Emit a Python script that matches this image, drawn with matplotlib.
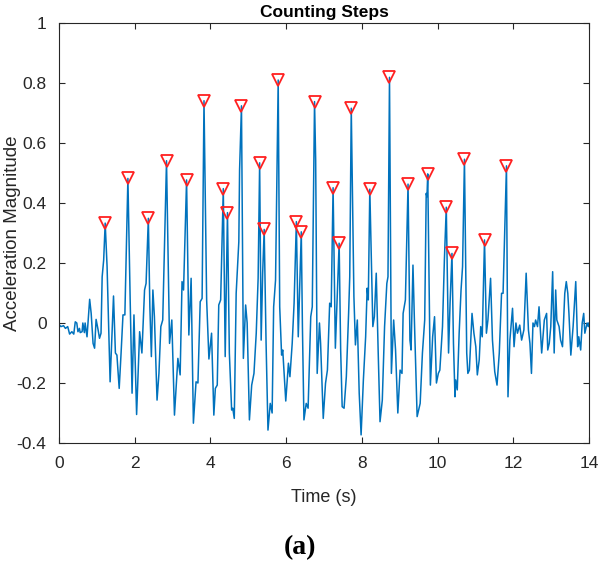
import matplotlib
matplotlib.use('Agg')
import matplotlib.pyplot as plt
import numpy as np

# acceleration magnitude trace (time in s, magnitude)
sig_t = [0.00, 0.05, 0.12, 0.17, 0.23, 0.28, 0.34, 0.39, 0.43, 0.47, 0.50, 0.54, 0.56, 0.61, 0.63, 0.67, 0.69, 0.74,
         0.81, 0.85, 0.90, 0.94, 0.98, 1.03, 1.07, 1.11, 1.14, 1.18, 1.22, 1.27, 1.35, 1.40, 1.44, 1.49, 1.53, 1.59,
         1.64, 1.69, 1.74, 1.82, 1.88, 1.93, 1.98, 2.05, 2.13, 2.19, 2.26, 2.30, 2.36, 2.40, 2.44, 2.48, 2.52, 2.59,
         2.64, 2.69, 2.74, 2.84, 2.92, 2.98, 3.05, 3.14, 3.20, 3.25, 3.29, 3.37, 3.43, 3.49, 3.55, 3.62, 3.67, 3.73,
         3.78, 3.83, 3.90, 3.96, 4.03, 4.09, 4.13, 4.18, 4.22, 4.27, 4.34, 4.39, 4.45, 4.50, 4.56, 4.59, 4.63, 4.68,
         4.75, 4.77, 4.82, 4.87, 4.93, 4.97, 5.03, 5.09, 5.15, 5.21, 5.26, 5.30, 5.34, 5.38, 5.42, 5.47, 5.52, 5.58,
         5.63, 5.67, 5.72, 5.79, 5.83, 5.88, 5.91, 5.99, 6.06, 6.10, 6.16, 6.21, 6.27, 6.32, 6.40, 6.43, 6.47, 6.53,
         6.58, 6.65, 6.69, 6.75, 6.78, 6.82, 6.88, 6.91, 6.98, 7.04, 7.09, 7.15, 7.19, 7.24, 7.30, 7.34, 7.40, 7.44,
         7.48, 7.53, 7.59, 7.65, 7.68, 7.72, 7.79, 7.83, 7.88, 7.93, 7.98, 8.04, 8.10, 8.14, 8.17, 8.21, 8.29, 8.33,
         8.38, 8.43, 8.48, 8.54, 8.60, 8.66, 8.69, 8.73, 8.78, 8.84, 8.89, 8.95, 9.01, 9.06, 9.09, 9.15, 9.22, 9.27,
         9.30, 9.35, 9.39, 9.46, 9.54, 9.60, 9.66, 9.70, 9.72, 9.74, 9.81, 9.87, 9.92, 9.97, 10.02, 10.06, 10.13,
         10.18, 10.23, 10.29, 10.33, 10.38, 10.42, 10.46, 10.48, 10.52, 10.57, 10.62, 10.66, 10.71, 10.77, 10.80,
         10.84, 10.91, 10.96, 11.01, 11.05, 11.10, 11.14, 11.18, 11.24, 11.29, 11.33, 11.40, 11.45, 11.51, 11.57,
         11.63, 11.69, 11.73, 11.82, 11.86, 11.91, 11.98, 12.02, 12.07, 12.11, 12.17, 12.22, 12.28, 12.34, 12.40,
         12.44, 12.48, 12.52, 12.56, 12.59, 12.64, 12.68, 12.75, 12.82, 12.88, 12.91, 12.95, 12.99, 13.04, 13.08,
         13.12, 13.15, 13.21, 13.25, 13.30, 13.36, 13.40, 13.44, 13.47, 13.52, 13.58, 13.65, 13.70, 13.73, 13.78,
         13.82, 13.86, 13.89, 13.95, 13.98, 14.00]
sig_v = [-0.005, -0.012, -0.009, -0.018, -0.012, -0.037, -0.029, -0.037, 0.004, 0.0, -0.029, -0.018, -0.032, -0.029,
         0.0, -0.032, 0.0, -0.046, 0.079, 0.032, -0.068, -0.084, 0.012, -0.021, -0.051, -0.034, 0.154, 0.21, 0.333,
         0.188, -0.196, -0.034, 0.09, -0.10, -0.107, -0.218, -0.10, 0.027, 0.027, 0.482, 0.077, -0.234, 0.027, -0.305,
         -0.029, -0.10, 0.11, 0.132, 0.349, 0.054, -0.112, 0.11, 0.021, -0.257, -0.168, -0.012, 0.01, 0.541, -0.068,
         0.01, -0.307, -0.118, -0.173, 0.138, 0.11, 0.477, -0.04, 0.149, -0.334, -0.196, -0.20, 0.071, 0.082, 0.741,
         0.077, -0.12, -0.034, -0.307, -0.218, -0.207, 0.06, 0.077, 0.448, -0.112, 0.368, -0.10, -0.29, -0.284,
         -0.318, 0.099, 0.271, 0.51, 0.724, -0.118, 0.06, 0.0, -0.323, -0.207, -0.168, -0.034, 0.149, 0.534, -0.057,
         0.166, 0.312, -0.068, -0.357, -0.268, -0.30, 0.054, 0.143, 0.810, 0.054, -0.107, -0.09, -0.26, -0.134,
         -0.179, -0.068, 0.066, 0.338, -0.046, 0.304, -0.012, -0.323, -0.268, -0.284, 0.021, 0.054, 0.738, 0.543,
         -0.168, 0.0, -0.068, -0.318, -0.201, -0.157, 0.066, 0.054, 0.451, -0.084, 0.054, 0.266, -0.09, -0.279,
         -0.284, -0.179, 0.032, 0.154, 0.716, 0.088, -0.073, 0.01, -0.234, -0.373, -0.19, -0.046, 0.116, 0.077, 0.446,
         -0.012, 0.021, 0.166, -0.09, -0.329, -0.257, -0.012, 0.132, 0.154, 0.819, -0.168, 0.01, -0.09, -0.30, -0.157,
         -0.168, 0.032, 0.077, 0.463, -0.057, -0.09, 0.193, 0.0, -0.312, -0.268, -0.10, 0.01, 0.432, 0.421, 0.497,
         -0.207, -0.046, 0.021, -0.2, -0.168, -0.157, -0.012, 0.21, 0.386, -0.10, 0.066, 0.232, -0.068, -0.246,
         -0.19, -0.223, -0.034, 0.11, 0.188, 0.546, -0.10, -0.168, -0.157, 0.032, -0.034, -0.079, -0.173, -0.123,
         -0.012, -0.046, 0.277, -0.034, 0.01, 0.149, -0.057, -0.162, -0.207, -0.10, 0.099, 0.099, 0.524, -0.246,
         -0.057, 0.049, -0.079, 0.0, -0.034, -0.007, -0.057, -0.023, 0.166, -0.023, -0.068, -0.168, 0.0, -0.012, 0.01,
         -0.012, 0.054, -0.10, 0.01, 0.032, -0.09, -0.068, -0.012, 0.171, -0.10, 0.11, 0.01, -0.012, -0.057, -0.079,
         0.099, 0.138, 0.099, 0.032, -0.107, -0.012, 0.138, -0.079, -0.046, -0.09, 0.0, 0.032, -0.034, 0.0, -0.012,
         0.0]

# detected steps (peaks)
pk_t = [1.22, 1.82, 2.36, 2.84, 3.37, 3.83, 4.34, 4.45, 4.82, 5.30, 5.42, 5.79, 6.27, 6.40, 6.75, 7.24, 7.40, 7.72,
        8.21, 8.73, 9.22, 9.74, 10.23, 10.38, 10.71, 11.24, 11.82]
pk_v = [0.333, 0.482, 0.349, 0.541, 0.477, 0.741, 0.448, 0.368, 0.724, 0.534, 0.312, 0.810, 0.338, 0.304, 0.738,
        0.451, 0.266, 0.716, 0.446, 0.819, 0.463, 0.497, 0.386, 0.232, 0.546, 0.277, 0.524]

xticks = [0, 2, 4, 6, 8, 10, 12, 14]
yticks = [-0.4, -0.2, 0, 0.2, 0.4, 0.6, 0.8, 1]
ylabels = ['-0.4', '-0.2', '0', '0.2', '0.4', '0.6', '0.8', '1']

plt.rcParams['font.family'] = ['Liberation Sans', 'DejaVu Sans']
grey = '#262626'

fig = plt.figure(figsize=(6.0, 5.68), dpi=100)
ax = fig.add_axes([59/600, 125/568, 530/600, 420/568])
ax.plot(sig_t, sig_v, color='#0072BD', lw=1.1)
ax.plot(pk_t, pk_v, 'v', ms=8.5, mfc='none', mec='#ff2020', mew=1.3)

ax.set_xlim(0, 14)
ax.set_ylim(-0.4, 1)
ax.set_xticks(xticks)
ax.set_yticks(yticks)
ax.set_yticklabels(ylabels)
ax.tick_params(direction='in', top=True, right=True, length=4, width=0.8, colors=grey, labelsize=12.5)
ax.tick_params(axis='x', pad=9)
ax.tick_params(axis='y', pad=9)
for s in ax.spines.values():
    s.set_color(grey)
    s.set_linewidth(0.8)

ax.set_title('Counting Steps', fontsize=12.5, fontweight='bold', color='black', pad=4)
ax.set_xlabel('Time (s)', fontsize=13, color=grey)
ax.xaxis.set_label_coords(0.5, -0.11)
ax.set_ylabel('Acceleration Magnitude', fontsize=13.5, color=grey)
ax.yaxis.set_label_coords(-0.072, 0.5)

fig.text(0.5, 1 - 548/568, '(a)', ha='center', va='center', fontsize=20, fontweight='bold',
         family='Liberation Serif')

fig.savefig('out.png', dpi=100)
